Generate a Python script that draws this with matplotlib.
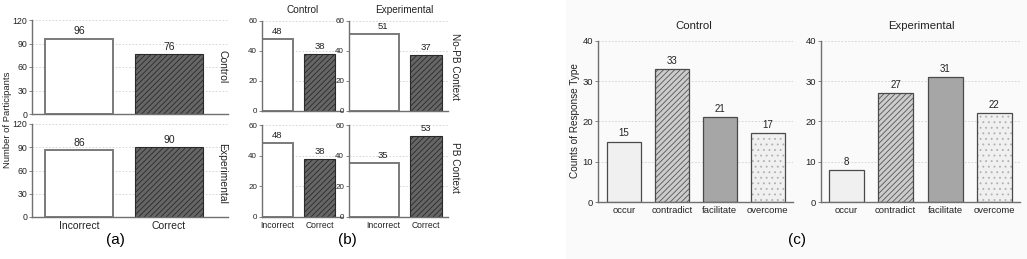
import matplotlib
matplotlib.use("Agg")
import matplotlib.pyplot as plt
from matplotlib.patches import Rectangle

plt.rcParams['font.family'] = ['Liberation Sans', 'DejaVu Sans']
plt.rcParams['hatch.linewidth'] = 0.6

# ---------------- data ----------------
outcomes = ["Incorrect", "Correct"]
a_groups = ["Control", "Experimental"]
a_values = {"Control": [96, 76], "Experimental": [86, 90]}

b_cols = ["Control", "Experimental"]
b_rows = ["No-PB Context", "PB Context"]
b_values = {
    ("No-PB Context", "Control"): [48, 38],
    ("No-PB Context", "Experimental"): [51, 37],
    ("PB Context", "Control"): [48, 38],
    ("PB Context", "Experimental"): [35, 53],
}

c_types = ["occur", "contradict", "facilitate", "overcome"]
c_groups = ["Control", "Experimental"]
c_values = {"Control": [15, 33, 21, 17], "Experimental": [8, 27, 31, 22]}

a_ticks = [0, 30, 60, 90, 120]
b_ticks = [0, 20, 40, 60]
c_ticks = [0, 10, 20, 30, 40]

# ---------------- figure ----------------
W, H = 1027, 259
fig = plt.figure(figsize=(W / 100, H / 100), dpi=100)
fig.patch.set_facecolor('white')
fig.patches.append(Rectangle((566 / W, 0), 1 - 566 / W, 1, transform=fig.transFigure,
                             facecolor='#fafafa', edgecolor='none', zorder=-10))


def px_axes(x0, x1, y0, y1):
    ax = fig.add_axes([x0 / W, 1 - y1 / H, (x1 - x0) / W, (y1 - y0) / H])
    ax.set_facecolor('none')
    return ax


def style_axes(ax, ticks, fs=6):
    ax.set_ylim(ticks[0], ticks[-1])
    ax.set_yticks(ticks)
    for s in ['top', 'right']:
        ax.spines[s].set_visible(False)
    for s in ['left', 'bottom']:
        ax.spines[s].set_color('#707070')
        ax.spines[s].set_linewidth(1.0)
    ax.tick_params(axis='y', labelsize=fs, length=2, width=0.6, colors='#707070',
                   labelcolor='#222222', pad=1.5)
    ax.tick_params(axis='x', length=0, labelsize=fs + 1, labelcolor='#222222', pad=3)
    ax.yaxis.grid(True, linestyle=(0, (2, 2)), color='#d0d0d0', linewidth=0.6)
    ax.set_axisbelow(True)


incorrect_style = dict(color='white', edgecolor='#7a7a7a', linewidth=1.4)
correct_style = dict(color='#666666', edgecolor='#2a2a2a', linewidth=0.8, hatch='//////')

# ---------------- panel (a) ----------------
a_rows_px = [(20, 114), (124, 217)]
for i, g in enumerate(a_groups):
    ax = px_axes(32, 228, *a_rows_px[i])
    vals = a_values[g]
    ax.bar([0], vals[0], width=0.756, **incorrect_style)
    ax.bar([1], vals[1], width=0.756, **correct_style)
    for x, v in enumerate(vals):
        ax.text(x, v + 3, str(v), ha='center', va='bottom', fontsize=7.5, color='#222222')
    style_axes(ax, a_ticks, fs=6.3)
    ax.set_xlim(-0.522, 1.656)
    ax.set_xticks([0, 1])
    if i == 1:
        ax.set_xticklabels(outcomes, fontsize=7.5)
    else:
        ax.set_xticklabels([])
    fig.text(222 / W, 1 - (67 if i == 0 else 173) / H, g, rotation=-90, ha='center',
             va='center', fontsize=7.5, color='#222222')
fig.text(8 / W, 1 - 120 / H, "Number of Participants", rotation=90, ha='center',
         va='center', fontsize=6.8, color='#222222')
fig.text(115 / W, 1 - 240 / H, "(a)", ha='center', va='center', fontsize=11)

# ---------------- panel (b) ----------------
b_rows_px = [(20.7, 110.7), (125, 216.7)]
b_cols_px = [(262, 342), (349, 448)]
b_bar_left = {"Control": [-0.369, 1 - 0.369], "Experimental": [-0.79, 1 - 0.372]}
b_bar_width = {"Control": [0.738, 0.738], "Experimental": [1.162, 0.744]}
b_xlim = {"Control": (-0.369, 1.536), "Experimental": (-0.79, 1.51)}
for r, row in enumerate(b_rows):
    for c, col in enumerate(b_cols):
        ax = px_axes(*b_cols_px[c], *b_rows_px[r])
        vals = b_values[(row, col)]
        lefts = b_bar_left[col]
        widths = b_bar_width[col]
        ax.bar(lefts[0], vals[0], width=widths[0], align='edge', **incorrect_style)
        ax.bar(lefts[1], vals[1], width=widths[1], align='edge', **correct_style)
        for x, v in enumerate(vals):
            ax.text(x, v + 2, str(v), ha='center', va='bottom', fontsize=6.8, color='#222222')
        style_axes(ax, b_ticks, fs=5.8)
        ax.set_xlim(*b_xlim[col])
        ax.set_xticks([0, 1])
        if r == 1:
            ax.set_xticklabels(outcomes, fontsize=6.2)
        else:
            ax.set_xticklabels([])
        if r == 0:
            fig.text((303 if c == 0 else 404) / W, 1 - 10 / H, col, ha='center', va='center',
                     fontsize=7.2, color='#222222')
    fig.text(455 / W, 1 - (67 if r == 0 else 167) / H, row, rotation=-90, ha='center',
             va='center', fontsize=7.2, color='#222222')
fig.text(347 / W, 1 - 240 / H, "(b)", ha='center', va='center', fontsize=11)

# ---------------- panel (c) ----------------
c_fills = [
    dict(color='#f0f0f0', edgecolor='none'),
    dict(color='#cccccc', edgecolor='#555555', hatch='//////', linewidth=0),
    dict(color='#a6a6a6', edgecolor='none'),
    dict(color='#f0f0f0', edgecolor='#b0b0b0', hatch='...', linewidth=0),
]
c_outline = dict(fill=False, edgecolor='#4a4a4a', linewidth=0.9)
c_axes_px = [(598, 793), (820.7, 1020)]
c_xlim = [(-0.54, 3.53), (-0.52, 3.52)]
c_width = [0.71, 0.71]
c_title_x = [694, 921]
for i, g in enumerate(c_groups):
    ax = px_axes(*c_axes_px[i], 40.7, 202)
    vals = c_values[g]
    for x, (v, st) in enumerate(zip(vals, c_fills)):
        ax.bar(x, v, width=c_width[i], **st)
        ax.bar(x, v, width=c_width[i], **c_outline)
        ax.text(x, v + 0.8, str(v), ha='center', va='bottom', fontsize=7, color='#222222')
    style_axes(ax, c_ticks, fs=6.8)
    ax.set_xlim(*c_xlim[i])
    ax.set_xticks(range(len(c_types)))
    ax.set_xticklabels(c_types, fontsize=6.8)
    fig.text(c_title_x[i] / W, 1 - 26 / H, g, ha='center', va='center', fontsize=8.2,
             color='#222222')
fig.text(575 / W, 1 - 121 / H, "Counts of Response Type", rotation=90, ha='center',
         va='center', fontsize=7.2, color='#222222')
fig.text(797 / W, 1 - 240 / H, "(c)", ha='center', va='center', fontsize=11)

fig.savefig("out.png", dpi=100)
